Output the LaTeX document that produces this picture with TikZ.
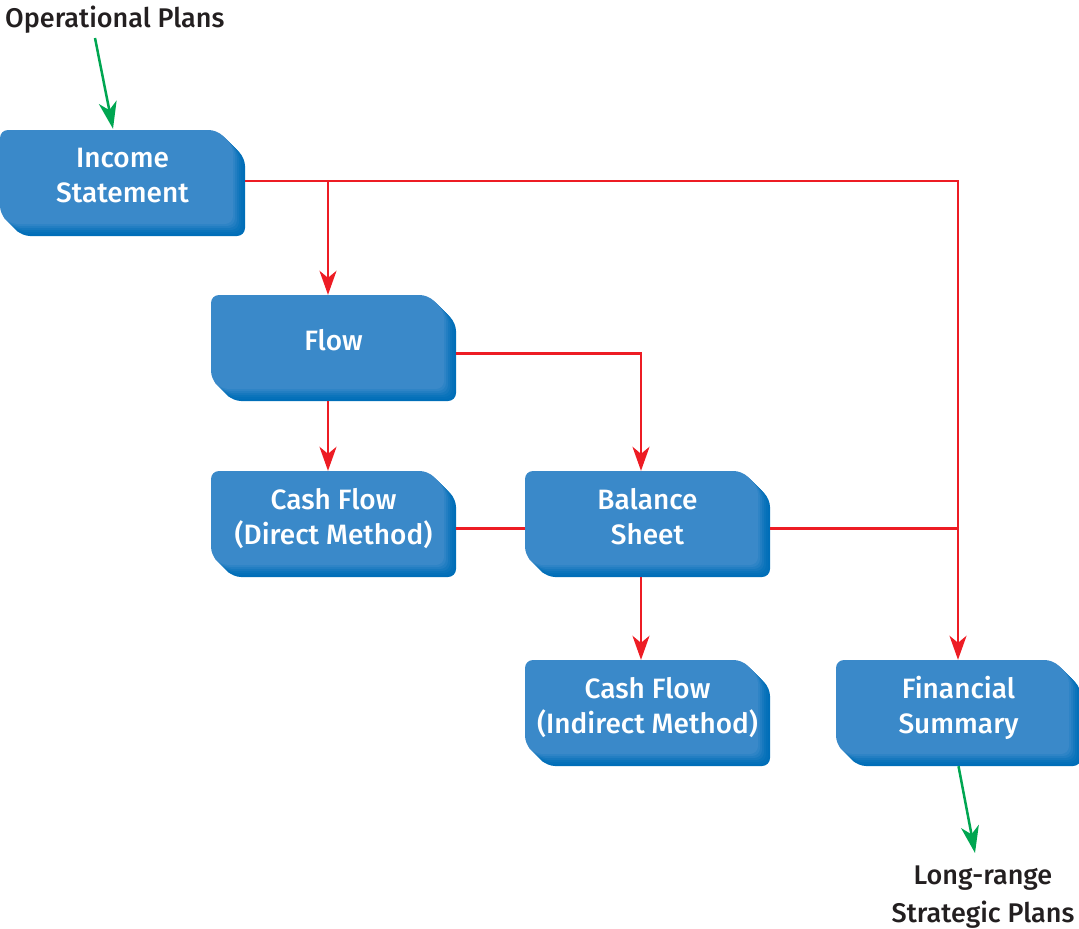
\documentclass[tikz,border=0pt]{standalone}
\usepackage{fontspec}
\newfontfamily\labelfont{Fira Sans Medium}
\usetikzlibrary{arrows.meta}
\definecolor{boxface}{HTML}{3A89C9}
\definecolor{boxdark}{HTML}{006EB8}
\definecolor{linkred}{HTML}{ED1C24}
\definecolor{linkgreen}{HTML}{00A651}
\definecolor{labelgray}{HTML}{231F20}
\newcommand\lastdp{\rule[-16pt]{0pt}{16pt}}
\newcommand\facepath[1]{%
  \fill[rounded corners=8pt,shift={(#1,#1)}] (0,40) -- (0,0) -- (217,0) -- (233,16) -- (233,94) -- (10,94) -- (0,84) -- cycle;}
\newcommand\myblock[4]{%
  \begin{scope}[shift={(#2,#3)}]
    \begin{scope}[boxdark]\facepath{12}\end{scope}
    \begin{scope}[boxdark!92!boxface]\facepath{10}\end{scope}
    \begin{scope}[boxdark!80!boxface]\facepath{8}\end{scope}
    \begin{scope}[boxdark!62!boxface]\facepath{6}\end{scope}
    \begin{scope}[boxdark!42!boxface]\facepath{4}\end{scope}
    \begin{scope}[boxdark!20!boxface]\facepath{2}\end{scope}
    \begin{scope}[boxface]\facepath{0}\end{scope}
  \end{scope}
  \node[boxnode] (#1) at (#2+122.5,#3+53) {#4\lastdp};
}
\begin{document}
\begin{tikzpicture}[x=1pt,y=-1pt,
  boxnode/.style={rectangle,inner sep=0pt,minimum width=245pt,minimum height=106pt,
    text=white,align=center,font=\labelfont\fontsize{28}{35}\selectfont},
  labeltext/.style={inner sep=0pt,text=labelgray,align=center,font=\labelfont\fontsize{27}{38}\selectfont},
  redlink/.style={draw=linkred,line width=2.5pt},
  redarrow/.style={redlink,-{Stealth[length=24pt,width=17pt,inset=7pt]}},
  greenarrow/.style={draw=linkgreen,line width=2.5pt,-{Stealth[length=27pt,width=18pt,inset=8pt]}}]
\useasboundingbox (0,0) rectangle (1079,929);

\myblock{inc}{0}{130}{Income\\Statement}
\myblock{flow}{211}{295}{Flow}
\myblock{cfd}{211}{471}{Cash Flow\\(Direct Method)}
\myblock{bal}{525}{471}{Balance\\Sheet}
\myblock{cfi}{525}{660}{Cash Flow\\(Indirect Method)}
\myblock{fin}{836}{660}{Financial\\Summary}

\node[labeltext,anchor=base west] (ops) at (5,27) {Operational Plans};
\node[labeltext,anchor=base] (lr) at (983,922) {Long-range\\Strategic Plans};

\coordinate (incout) at ([yshift=2pt]inc.east);
\coordinate (flowin) at ([xshift=-5.5pt]flow.north);
\coordinate (flowout) at ([yshift=-5.5pt]flow.east);
\coordinate (flowbot) at ([xshift=-5.5pt]flow.south);
\coordinate (cfdin) at ([xshift=-5.5pt]cfd.north);
\coordinate (cfdout) at ([yshift=-4.5pt]cfd.east);
\coordinate (balin) at ([xshift=-6.5pt]bal.north);
\coordinate (balwest) at ([yshift=-4.5pt]bal.west);
\coordinate (baleast) at ([yshift=-4.5pt]bal.east);
\coordinate (balbot) at ([xshift=-6.5pt]bal.south);
\coordinate (cfiin) at ([xshift=-6.5pt]cfi.north);
\coordinate (finin) at ([xshift=-0.5pt]fin.north);
\coordinate (g1s) at (95,38);
\coordinate (g1e) at ([xshift=-9.5pt,yshift=1pt]inc.north);
\coordinate (g2e) at (975,853);

\draw[redarrow] (incout) -| (finin);
\draw[redarrow] (flowin |- incout) -- (flowin);
\draw[redarrow] (flowout) -| (balin);
\draw[redarrow] (flowbot) -- (cfdin);
\draw[redlink] (cfdout) -- (balwest);
\draw[redlink] (baleast) -- (baleast -| finin);
\draw[redarrow] (balbot) -- (cfiin);

\draw[greenarrow] (g1s) -- (g1e);
\draw[greenarrow] (fin.south) -- (g2e);
\end{tikzpicture}
\end{document}
